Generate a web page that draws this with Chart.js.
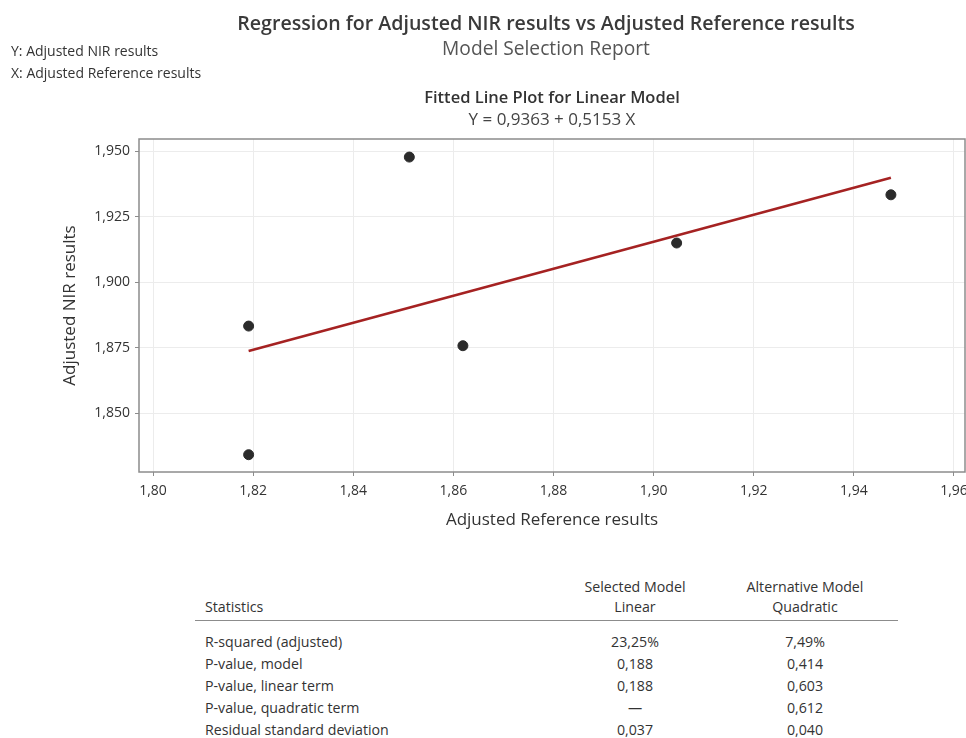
<!DOCTYPE html>
<html>
<head>
<meta charset="utf-8">
<script src="https://cdn.jsdelivr.net/npm/chart.js@4.4.1/dist/chart.umd.min.js"></script>
<style>
    html, body { margin: 0; padding: 0; background: #fff; }
    body { width: 966px; height: 738px; position: relative; overflow: hidden; font-family: "Open Sans", "Noto Sans", sans-serif; color: #333; }
    #wrap { position: absolute; left: 0; top: 0; width: 971px; height: 540px; }
    .t { position: absolute; white-space: nowrap; line-height: 1; }
    .c { transform: translateX(-50%); }
    table { position: absolute; left: 195px; top: 577px; width: 703px; border-collapse: collapse; font-size: 14.2px; color: #333; table-layout: fixed; }
    td, th { padding: 0; font-weight: normal; line-height: 20px; height: 20px; }
    td { line-height: 22px; height: 22px; }
    col.l { width: 355px; }
    col.v1 { width: 170px; }
    col.v2 { width: 178px; }
    .v { text-align: center; }
    .v2 { padding-right: 8px; }
    .l { padding-left: 10px; text-align: left; }
    tr.hd2 th { border-bottom: 1.5px solid #8c8c8c; padding-bottom: 3px; }
    tr.first td { padding-top: 10px; }
</style>
</head>
<body>
<div id="wrap"><canvas id="chart" width="971" height="540"></canvas></div>

<div class="t c" style="left:546px; top:13px; font-size:19.6px; font-weight:600; color:#3a3a3a;">Regression for Adjusted NIR results vs Adjusted Reference results</div>
<div class="t c" style="left:546px; top:38px; font-size:19.2px; color:#555;">Model Selection Report</div>
<div class="t" style="left:11px; top:44px; font-size:14px; color:#333;">Y: Adjusted NIR results</div>
<div class="t" style="left:11px; top:66px; font-size:14px; color:#333;">X: Adjusted Reference results</div>
<div class="t c" style="left:552px; top:89px; font-size:16.5px; font-weight:600; color:#333;">Fitted Line Plot for Linear Model</div>
<div class="t c" style="left:552px; top:110px; font-size:17px; color:#444;">Y = 0,9363 + 0,5153 X</div>

<table>
    <colgroup><col class="l"><col class="v1"><col class="v2"></colgroup>
    <tr><th class="l"></th><th class="v">Selected Model</th><th class="v v2">Alternative Model</th></tr>
    <tr class="hd2"><th class="l">Statistics</th><th class="v">Linear</th><th class="v v2">Quadratic</th></tr>
    <tbody id="rows"></tbody>
</table>

<script>
// Observed points (Adjusted Reference, Adjusted NIR)
const refValues = [1.8191, 1.8191, 1.8512, 1.8619, 1.9046, 1.9474];
const nirValues = [1.8832, 1.8341, 1.9477, 1.8757, 1.9149, 1.9333];

// Fitted line endpoints: Y = 0,9363 + 0,5153 X
const fitX = [1.8191, 1.9474];
const fitY = [1.8737, 1.9398];

const xTicks = [1.80, 1.82, 1.84, 1.86, 1.88, 1.90, 1.92, 1.94, 1.96];
const yTicks = [1.850, 1.875, 1.900, 1.925, 1.950];

// Stats table
const statNames = ['R-squared (adjusted)', 'P-value, model', 'P-value, linear term', 'P-value, quadratic term', 'Residual standard deviation'];
const linearStats = ['23,25%', '0,188', '0,188', '—', '0,037'];
const quadStats = ['7,49%', '0,414', '0,603', '0,612', '0,040'];

document.getElementById('rows').innerHTML = statNames.map((n, i) => `
    <tr class="${i === 0 ? 'first' : ''}"><td class="l">${n}</td><td class="v">${linearStats[i]}</td><td class="v v2">${quadStats[i]}</td></tr>`).join('');

const comma = (v, d) => v.toFixed(d).replace('.', ',');

// frame around the plot area
const framePlugin = {
    id: 'frame',
    afterDraw(chart) {
        const a = chart.chartArea, ctx = chart.ctx;
        ctx.save();
        ctx.strokeStyle = '#8c8c8c';
        ctx.lineWidth = 1.5;
        ctx.strokeRect(a.left, a.top, a.right - a.left, a.bottom - a.top);
        ctx.restore();
    }
};

new Chart(document.getElementById('chart'), {
    type: 'scatter',
    data: {
        datasets: [
            {
                label: 'Fit',
                data: fitX.map((x, i) => ({ x, y: fitY[i] })),
                showLine: true,
                borderColor: '#a52222',
                borderWidth: 2.5,
                pointRadius: 0,
                order: 2
            },
            {
                label: 'Data',
                data: refValues.map((x, i) => ({ x, y: nirValues[i] })),
                backgroundColor: '#2b2b2b',
                borderColor: '#2b2b2b',
                pointRadius: 5,
                order: 1
            }
        ]
    },
    options: {
        responsive: false,
        animation: false,
        layout: { padding: { left: 0, top: 139, right: 0, bottom: -2 } },
        plugins: { legend: { display: false }, tooltip: { enabled: false } },
        scales: {
            x: {
                min: 1.7972, max: 1.9622,
                afterBuildTicks: axis => { axis.ticks = xTicks.map(v => ({ value: v })); },
                afterFit: s => { s.height = 70; s.paddingLeft = 0; s.paddingRight = 0; },
                ticks: { callback: v => comma(v, 2), color: '#333', font: { family: 'Open Sans', size: 14 }, padding: 7, maxRotation: 0 },
                grid: { color: '#ececec', tickColor: '#8c8c8c', tickLength: 4 },
                border: { display: false },
                title: { display: true, text: 'Adjusted Reference results', color: '#333', font: { family: 'Open Sans', size: 17 }, padding: { top: 0, bottom: 12 } }
            },
            y: {
                min: 1.8275, max: 1.9546,
                afterBuildTicks: axis => { axis.ticks = yTicks.map(v => ({ value: v })); },
                afterFit: s => { s.width = 139; s.paddingTop = 0; s.paddingBottom = 0; },
                ticks: { callback: v => comma(v, 3), color: '#333', font: { family: 'Open Sans', size: 14 }, padding: 5 },
                grid: { color: '#ececec', tickColor: '#8c8c8c', tickLength: 4 },
                border: { display: false },
                title: { display: true, text: 'Adjusted NIR results', color: '#333', font: { family: 'Open Sans', size: 17 }, padding: { top: 60, bottom: 0 } }
            }
        }
    },
    plugins: [framePlugin]
});
</script>
</body>
</html>
